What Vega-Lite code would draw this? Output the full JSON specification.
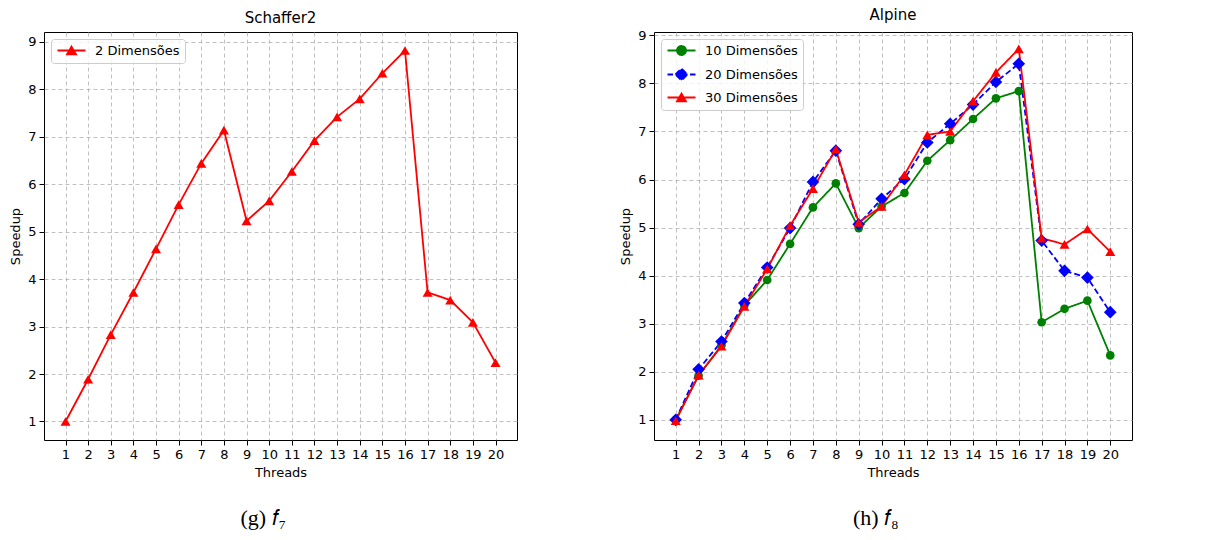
{
  "$schema": "https://vega.github.io/schema/vega-lite/v6.json",
  "padding": {"left": 9, "top": 7, "right": 5, "bottom": 5},
  "background": "white",
  "datasets": {
    "schaffer": [
      {"threads": 1, "speedup": 1.0, "series": "2 Dimensões"},
      {"threads": 2, "speedup": 1.89, "series": "2 Dimensões"},
      {"threads": 3, "speedup": 2.83, "series": "2 Dimensões"},
      {"threads": 4, "speedup": 3.72, "series": "2 Dimensões"},
      {"threads": 5, "speedup": 4.64, "series": "2 Dimensões"},
      {"threads": 6, "speedup": 5.57, "series": "2 Dimensões"},
      {"threads": 7, "speedup": 6.44, "series": "2 Dimensões"},
      {"threads": 8, "speedup": 7.14, "series": "2 Dimensões"},
      {"threads": 9, "speedup": 5.23, "series": "2 Dimensões"},
      {"threads": 10, "speedup": 5.65, "series": "2 Dimensões"},
      {"threads": 11, "speedup": 6.27, "series": "2 Dimensões"},
      {"threads": 12, "speedup": 6.92, "series": "2 Dimensões"},
      {"threads": 13, "speedup": 7.42, "series": "2 Dimensões"},
      {"threads": 14, "speedup": 7.8, "series": "2 Dimensões"},
      {"threads": 15, "speedup": 8.34, "series": "2 Dimensões"},
      {"threads": 16, "speedup": 8.82, "series": "2 Dimensões"},
      {"threads": 17, "speedup": 3.72, "series": "2 Dimensões"},
      {"threads": 18, "speedup": 3.56, "series": "2 Dimensões"},
      {"threads": 19, "speedup": 3.09, "series": "2 Dimensões"},
      {"threads": 20, "speedup": 2.24, "series": "2 Dimensões"}
    ],
    "alpine": [
      {"threads": 1, "speedup": 1.0, "series": "10 Dimensões"},
      {"threads": 2, "speedup": 1.92, "series": "10 Dimensões"},
      {"threads": 3, "speedup": 2.55, "series": "10 Dimensões"},
      {"threads": 4, "speedup": 3.38, "series": "10 Dimensões"},
      {"threads": 5, "speedup": 3.91, "series": "10 Dimensões"},
      {"threads": 6, "speedup": 4.66, "series": "10 Dimensões"},
      {"threads": 7, "speedup": 5.42, "series": "10 Dimensões"},
      {"threads": 8, "speedup": 5.92, "series": "10 Dimensões"},
      {"threads": 9, "speedup": 4.99, "series": "10 Dimensões"},
      {"threads": 10, "speedup": 5.44, "series": "10 Dimensões"},
      {"threads": 11, "speedup": 5.72, "series": "10 Dimensões"},
      {"threads": 12, "speedup": 6.39, "series": "10 Dimensões"},
      {"threads": 13, "speedup": 6.82, "series": "10 Dimensões"},
      {"threads": 14, "speedup": 7.26, "series": "10 Dimensões"},
      {"threads": 15, "speedup": 7.69, "series": "10 Dimensões"},
      {"threads": 16, "speedup": 7.84, "series": "10 Dimensões"},
      {"threads": 17, "speedup": 3.03, "series": "10 Dimensões"},
      {"threads": 18, "speedup": 3.31, "series": "10 Dimensões"},
      {"threads": 19, "speedup": 3.48, "series": "10 Dimensões"},
      {"threads": 20, "speedup": 2.34, "series": "10 Dimensões"},
      {"threads": 1, "speedup": 1.0, "series": "20 Dimensões"},
      {"threads": 2, "speedup": 2.05, "series": "20 Dimensões"},
      {"threads": 3, "speedup": 2.63, "series": "20 Dimensões"},
      {"threads": 4, "speedup": 3.43, "series": "20 Dimensões"},
      {"threads": 5, "speedup": 4.17, "series": "20 Dimensões"},
      {"threads": 6, "speedup": 4.99, "series": "20 Dimensões"},
      {"threads": 7, "speedup": 5.95, "series": "20 Dimensões"},
      {"threads": 8, "speedup": 6.6, "series": "20 Dimensões"},
      {"threads": 9, "speedup": 5.07, "series": "20 Dimensões"},
      {"threads": 10, "speedup": 5.6, "series": "20 Dimensões"},
      {"threads": 11, "speedup": 6.01, "series": "20 Dimensões"},
      {"threads": 12, "speedup": 6.77, "series": "20 Dimensões"},
      {"threads": 13, "speedup": 7.16, "series": "20 Dimensões"},
      {"threads": 14, "speedup": 7.56, "series": "20 Dimensões"},
      {"threads": 15, "speedup": 8.03, "series": "20 Dimensões"},
      {"threads": 16, "speedup": 8.41, "series": "20 Dimensões"},
      {"threads": 17, "speedup": 4.73, "series": "20 Dimensões"},
      {"threads": 18, "speedup": 4.1, "series": "20 Dimensões"},
      {"threads": 19, "speedup": 3.96, "series": "20 Dimensões"},
      {"threads": 20, "speedup": 3.24, "series": "20 Dimensões"},
      {"threads": 1, "speedup": 0.98, "series": "30 Dimensões"},
      {"threads": 2, "speedup": 1.93, "series": "30 Dimensões"},
      {"threads": 3, "speedup": 2.53, "series": "30 Dimensões"},
      {"threads": 4, "speedup": 3.36, "series": "30 Dimensões"},
      {"threads": 5, "speedup": 4.14, "series": "30 Dimensões"},
      {"threads": 6, "speedup": 5.04, "series": "30 Dimensões"},
      {"threads": 7, "speedup": 5.81, "series": "30 Dimensões"},
      {"threads": 8, "speedup": 6.63, "series": "30 Dimensões"},
      {"threads": 9, "speedup": 5.11, "series": "30 Dimensões"},
      {"threads": 10, "speedup": 5.44, "series": "30 Dimensões"},
      {"threads": 11, "speedup": 6.1, "series": "30 Dimensões"},
      {"threads": 12, "speedup": 6.93, "series": "30 Dimensões"},
      {"threads": 13, "speedup": 7.0, "series": "30 Dimensões"},
      {"threads": 14, "speedup": 7.63, "series": "30 Dimensões"},
      {"threads": 15, "speedup": 8.23, "series": "30 Dimensões"},
      {"threads": 16, "speedup": 8.72, "series": "30 Dimensões"},
      {"threads": 17, "speedup": 4.78, "series": "30 Dimensões"},
      {"threads": 18, "speedup": 4.65, "series": "30 Dimensões"},
      {"threads": 19, "speedup": 4.97, "series": "30 Dimensões"},
      {"threads": 20, "speedup": 4.5, "series": "30 Dimensões"}
    ]
  },
  "spacing": 101,
  "resolve": {
    "scale": {"color": "independent", "strokeDash": "independent"},
    "legend": {"color": "independent"}
  },
  "hconcat": [
    {
      "title": {"text": "(g) 𝑓₇", "orient": "bottom", "frame": "bounds", "anchor": "middle", "font": "Liberation Serif", "fontSize": 22, "fontWeight": "normal", "color": "black", "offset": 28},
      "vconcat": [
        {
          "title": {"text": "Schaffer2", "frame": "group", "anchor": "middle", "font": "DejaVu Sans", "fontSize": 15, "fontWeight": "normal", "color": "black", "offset": 6},
          "width": 473,
          "height": 408,
          "data": {"name": "schaffer"},
          "encoding": {
            "x": {"field": "threads", "type": "quantitative", "scale": {"domain": [0.05, 20.95], "nice": false, "zero": false},
                  "axis": {"values": [1,2,3,4,5,6,7,8,9,10,11,12,13,14,15,16,17,18,19,20], "title": "Threads"}},
            "y": {"field": "speedup", "type": "quantitative", "scale": {"domain": [0.61, 9.21], "nice": false, "zero": false},
                  "axis": {"values": [1,2,3,4,5,6,7,8,9], "title": "Speedup"}},
            "color": {"field": "series", "type": "nominal", "scale": {"domain": ["2 Dimensões"], "range": ["#ff0000"]},
                      "legend": {"title": null, "orient": "top-left", "offset": 7, "padding": 5, "labelOffset": 26, "symbolSize": 100, "symbolStrokeWidth": 1.8,
                                 "encode": {"symbols": {"update": {"shape": {"value": "M-1,0L4.6,0M1.8,-0.78L2.7,0.78L0.9,0.78Z"}, "fill": {"value": "#ff0000"}, "stroke": {"value": "#ff0000"}, "opacity": {"value": 1}}}}}}
          },
          "layer": [
            {"mark": {"type": "line", "strokeWidth": 1.8}},
            {"mark": {"type": "point", "shape": "triangle-up", "filled": true, "size": 100, "opacity": 1}}
          ]
        }
      ]
    },
    {
      "title": {"text": "(h) 𝑓₈", "orient": "bottom", "frame": "bounds", "anchor": "middle", "font": "Liberation Serif", "fontSize": 22, "fontWeight": "normal", "color": "black", "offset": 28},
      "vconcat": [
        {
          "title": {"text": "Alpine", "frame": "group", "anchor": "middle", "font": "DejaVu Sans", "fontSize": 15, "fontWeight": "normal", "color": "black", "offset": 6},
          "width": 478,
          "height": 408,
          "data": {"name": "alpine"},
          "encoding": {
            "x": {"field": "threads", "type": "quantitative", "scale": {"domain": [0.05, 20.95], "nice": false, "zero": false},
                  "axis": {"values": [1,2,3,4,5,6,7,8,9,10,11,12,13,14,15,16,17,18,19,20], "title": "Threads"}},
            "y": {"field": "speedup", "type": "quantitative", "scale": {"domain": [0.58, 9.07], "nice": false, "zero": false},
                  "axis": {"values": [1,2,3,4,5,6,7,8,9], "title": "Speedup"}},
            "color": {"field": "series", "type": "nominal", "scale": {"domain": ["10 Dimensões", "20 Dimensões", "30 Dimensões"], "range": ["#008000", "#0000ff", "#ff0000"]},
                      "legend": {"title": null, "orient": "top-left", "offset": 7, "padding": 5, "labelOffset": 26, "symbolSize": 100, "symbolStrokeWidth": 1.8, "rowPadding": 5,
                                 "encode": {"symbols": {"update": {
                                   "shape": {"signal": "datum.value === '10 Dimensões' ? 'M-1,0L4.6,0M0.9,0A0.9,0.9,0,1,0,2.7,0A0.9,0.9,0,1,0,0.9,0Z' : datum.value === '20 Dimensões' ? 'M-1,0L0.1,0M0.6,0L3,0M3.5,0L4.6,0M0.6,0L1.8,-1.2L3,0L1.8,1.2Z' : 'M-1,0L4.6,0M1.8,-0.78L2.7,0.78L0.9,0.78Z'"},
                                   "fill": {"signal": "datum.value === '10 Dimensões' ? '#008000' : datum.value === '20 Dimensões' ? '#0000ff' : '#ff0000'"},
                                   "stroke": {"signal": "datum.value === '10 Dimensões' ? '#008000' : datum.value === '20 Dimensões' ? '#0000ff' : '#ff0000'"},
                                   "opacity": {"value": 1}}}}}}
          },
          "layer": [
            {"mark": {"type": "line", "strokeWidth": 1.8},
             "encoding": {"strokeDash": {"field": "series", "type": "nominal", "scale": {"domain": ["10 Dimensões", "20 Dimensões", "30 Dimensões"], "range": [[1, 0], [6, 3], [1, 0]]}, "legend": null}}},
            {"transform": [{"filter": "datum.series === '10 Dimensões'"}],
             "mark": {"type": "point", "shape": "circle", "filled": true, "size": 75, "opacity": 1}},
            {"transform": [{"filter": "datum.series === '20 Dimensões'"}],
             "mark": {"type": "point", "shape": "diamond", "filled": true, "size": 160, "opacity": 1}},
            {"transform": [{"filter": "datum.series === '30 Dimensões'"}],
             "mark": {"type": "point", "shape": "triangle-up", "filled": true, "size": 100, "opacity": 1}}
          ]
        }
      ]
    }
  ],
  "config": {
    "font": "DejaVu Sans",
    "view": {"stroke": "black", "strokeWidth": 1},
    "axis": {
      "domain": false,
      "grid": true,
      "gridColor": "#b0b0b0",
      "gridDash": [4, 3],
      "gridWidth": 0.8,
      "gridOpacity": 1,
      "ticks": true,
      "tickColor": "black",
      "tickSize": 5,
      "tickWidth": 1,
      "labelFont": "DejaVu Sans",
      "labelFontSize": 13,
      "labelColor": "black",
      "labelPadding": 3,
      "labelFlush": false,
      "labelOverlap": false,
      "titleFont": "DejaVu Sans",
      "titleFontSize": 13,
      "titleFontWeight": "normal",
      "titleColor": "black",
      "titlePadding": 5
    },
    "legend": {
      "labelFont": "DejaVu Sans",
      "labelFontSize": 13,
      "labelColor": "black",
      "strokeColor": "#cccccc",
      "fillColor": "rgba(255,255,255,0.8)",
      "cornerRadius": 3,
      "symbolOpacity": 1
    }
  }
}
